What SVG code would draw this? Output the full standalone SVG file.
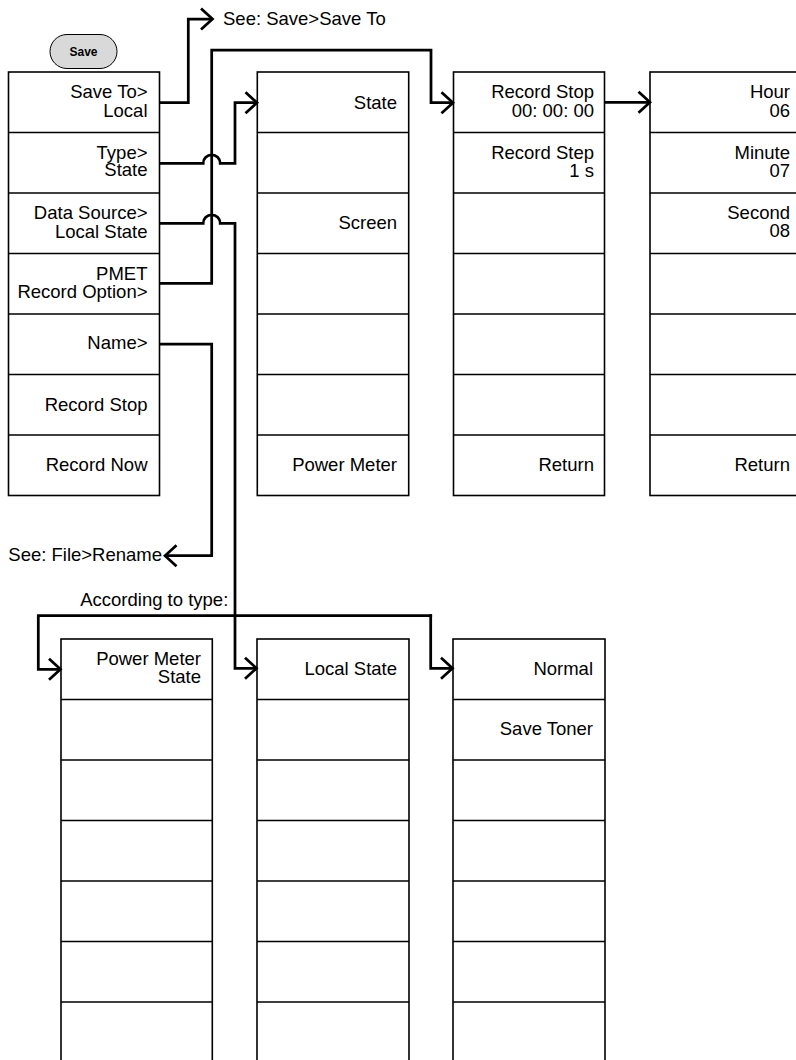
<svg xmlns="http://www.w3.org/2000/svg" width="796" height="1060" viewBox="0 0 796 1060">
<style>
.box{fill:#fff;stroke:#000;stroke-width:1.6}
.div{stroke:#000;stroke-width:1.6}
.t{font-family:"Liberation Sans",Arial,sans-serif;font-size:18.5px;fill:#000;text-anchor:end}
.l{font-family:"Liberation Sans",Arial,sans-serif;font-size:18.5px;fill:#000}
.c{fill:none;stroke:#000;stroke-width:2.75;stroke-linejoin:miter;stroke-linecap:butt}
.btn{fill:#d9d9d9;stroke:#000;stroke-width:1}
.bt{font-family:"Liberation Sans",Arial,sans-serif;font-size:12px;font-weight:bold;text-anchor:middle;fill:#000}
</style>
<defs>
<marker id="arr" viewBox="-14 -13 16 26" refX="0" refY="0" markerWidth="16" markerHeight="26" markerUnits="userSpaceOnUse" orient="auto">
<path d="M-11.5,-10.5 L0,0 L-11.5,10.5" fill="none" stroke="#000" stroke-width="2.75"/>
</marker>
</defs>
<g id="save-button">
<rect class="btn" x="50" y="34.5" width="67" height="34" rx="17" ry="17"/>
<text class="bt" x="83.5" y="56">Save</text>
</g>
<g id="col1">
<rect class="box" x="8.5" y="72" width="151" height="423.5"/>
<path class="div" d="M8.5,132.5H159.5M8.5,193H159.5M8.5,253.5H159.5M8.5,314H159.5M8.5,374.5H159.5M8.5,435H159.5"/>
<text class="t" x="147.5" y="98.3">Save To&gt;</text>
<text class="t" x="147.5" y="117.3">Local</text>
<text class="t" x="147.5" y="159.3">Type&gt;</text>
<text class="t" x="147.5" y="176">State</text>
<text class="t" x="147.5" y="219">Data Source&gt;</text>
<text class="t" x="147.5" y="237.5">Local State</text>
<text class="t" x="147.5" y="279.5">PMET</text>
<text class="t" x="147.5" y="297.5">Record Option&gt;</text>
<text class="t" x="147.5" y="349">Name&gt;</text>
<text class="t" x="147.5" y="410.5">Record Stop</text>
<text class="t" x="147.5" y="470.5">Record Now</text>
</g>
<g id="col2">
<rect class="box" x="257.3" y="72" width="151.4" height="423.5"/>
<path class="div" d="M257.3,132.5H408.7M257.3,193H408.7M257.3,253.5H408.7M257.3,314H408.7M257.3,374.5H408.7M257.3,435H408.7"/>
<text class="t" x="397" y="108.5">State</text>
<text class="t" x="397" y="229">Screen</text>
<text class="t" x="397" y="471">Power Meter</text>
</g>
<g id="col3">
<rect class="box" x="453.5" y="72" width="151" height="423.5"/>
<path class="div" d="M453.5,132.5H604.5M453.5,193H604.5M453.5,253.5H604.5M453.5,314H604.5M453.5,374.5H604.5M453.5,435H604.5"/>
<text class="t" x="594" y="98.3">Record Stop</text>
<text class="t" x="594" y="116.7">00: 00: 00</text>
<text class="t" x="594" y="159">Record Step</text>
<text class="t" x="594" y="177.3">1 s</text>
<text class="t" x="594" y="471">Return</text>
</g>
<g id="col4">
<rect class="box" x="650" y="72" width="152" height="423.5"/>
<path class="div" d="M650,132.5H802M650,193H802M650,253.5H802M650,314H802M650,374.5H802M650,435H802"/>
<text class="t" x="790" y="98.3">Hour</text>
<text class="t" x="790" y="116.7">06</text>
<text class="t" x="790" y="159">Minute</text>
<text class="t" x="790" y="177.3">07</text>
<text class="t" x="790" y="219.3">Second</text>
<text class="t" x="790" y="237">08</text>
<text class="t" x="790" y="471">Return</text>
</g>
<g id="colA">
<rect class="box" x="61" y="639" width="151.3" height="426"/>
<path class="div" d="M61,699.5H212.3M61,760H212.3M61,820.5H212.3M61,881H212.3M61,941.5H212.3M61,1002H212.3"/>
<text class="t" x="201" y="665">Power Meter</text>
<text class="t" x="201" y="682.7">State</text>
</g>
<g id="colB">
<rect class="box" x="257" y="639" width="152" height="426"/>
<path class="div" d="M257,699.5H409M257,760H409M257,820.5H409M257,881H409M257,941.5H409M257,1002H409"/>
<text class="t" x="397" y="674.5">Local State</text>
</g>
<g id="colC">
<rect class="box" x="453" y="639" width="152" height="426"/>
<path class="div" d="M453,699.5H605M453,760H605M453,820.5H605M453,881H605M453,941.5H605M453,1002H605"/>
<text class="t" x="593" y="674.5">Normal</text>
<text class="t" x="593" y="735">Save Toner</text>
</g>
<g id="labels">
<text class="l" x="223" y="25">See: Save&gt;Save To</text>
<text class="l" x="8.3" y="561">See: File&gt;Rename</text>
<text class="t" x="228.3" y="606">According to type:</text>
</g>
<g id="connectors">
<path class="c" marker-end="url(#arr)" d="M159.5,102.5H188.3V19H212.5"/>
<path class="c" marker-end="url(#arr)" d="M159.5,163.3H203.2A8.5,8.5 0 0 1 220.2,163.3H235V102.7H257"/>
<path class="c" marker-end="url(#arr)" d="M159.5,223.3H203.2A8.5,8.5 0 0 1 220.2,223.3H235V668.3H256.5"/>
<path class="c" marker-end="url(#arr)" d="M159.5,283.3H211.7V50H431V102.7H453"/>
<path class="c" marker-end="url(#arr)" d="M159.5,344H211.7V555.7H165"/>
<path class="c" marker-end="url(#arr)" d="M604.5,102.3H650"/>
<path class="c" marker-end="url(#arr)" d="M432.1,615.7H38.3V669.3H60.5"/>
<path class="c" marker-end="url(#arr)" d="M430.7,614.3V668.3H452.5"/>
</g>
</svg>
